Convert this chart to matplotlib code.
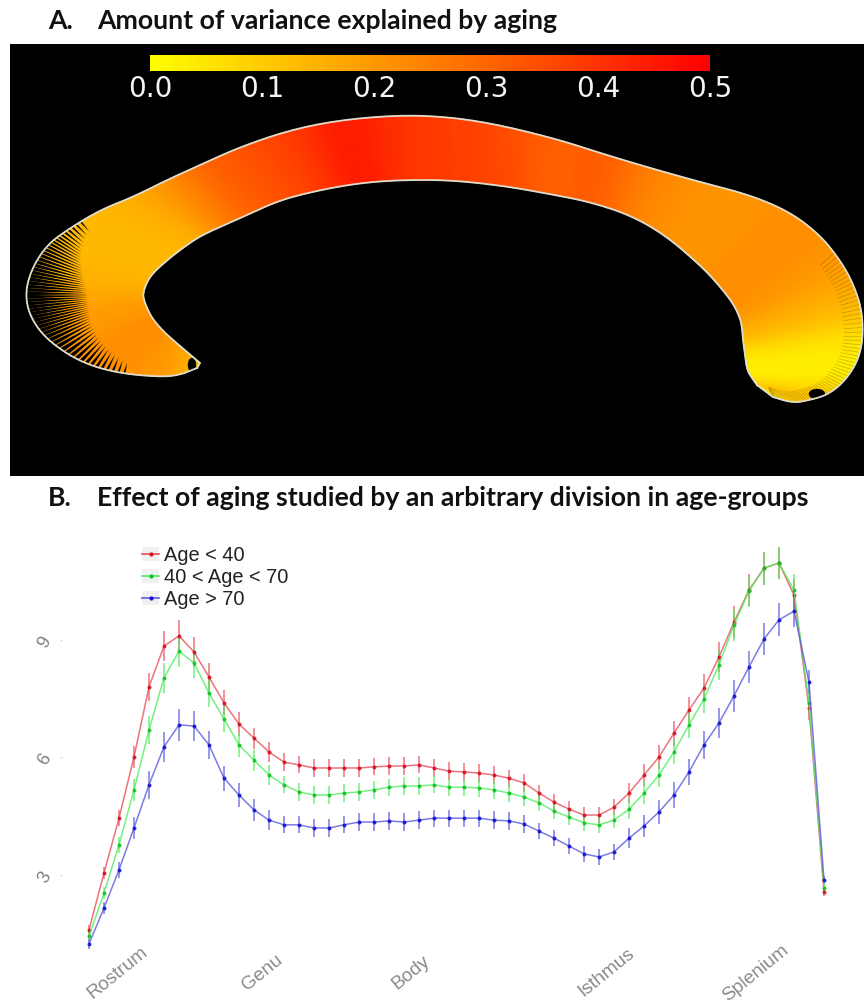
import matplotlib
matplotlib.use('Agg')
import matplotlib.pyplot as plt
from matplotlib.collections import LineCollection
from matplotlib.colors import LinearSegmentedColormap
from matplotlib.legend_handler import HandlerTuple
from matplotlib.lines import Line2D
from matplotlib.patches import Ellipse, Patch
import numpy as np

W, H = 864, 1005

# panel A, callosum stations from rostrum to splenium (image pixels)
outer_x = [197, 180, 160, 117, 80, 47, 30, 25, 32, 47, 67, 100, 133, 167, 200, 240, 290, 340, 400, 450,
           500, 560, 600, 650, 700, 750, 790, 820, 840, 853, 862, 863, 857, 843, 827, 810, 793, 773]
outer_y = [368, 375, 377, 373, 362, 340, 317, 293, 268, 245, 230, 210, 197, 180, 165, 147, 130, 120, 115, 117,
           125, 140, 153, 168, 182, 195, 212, 235, 260, 283, 310, 340, 363, 383, 395, 400, 403, 397]
inner_x = [200, 187, 173, 162, 152, 147, 144, 143, 146, 152, 165, 180, 197, 215, 245, 280, 320, 360, 400, 450,
           505, 555, 590, 630, 665, 700, 717, 733, 740, 742, 743, 745, 747, 752, 757, 757, 757, 757]
inner_y = [363, 352, 340, 330, 318, 308, 300, 294, 284, 274, 262, 250, 238, 229, 216, 200, 190, 183, 180, 180,
           186, 195, 202, 215, 235, 265, 283, 303, 318, 327, 340, 355, 370, 378, 385, 385, 385, 385]
variance = [.14, .17, .20, .22, .22, .20, .19, .17, .15, .14, .14, .14, .16, .22, .30, .34, .38, .46, .40, .38,
            .36, .30, .33, .25, .21, .21, .22, .22, .20, .17, .13, .05, .03, .05, .10, .12, .10, .06]
bar_ticks = [0.0, 0.1, 0.2, 0.3, 0.4, 0.5]

# panel B
regions = ['Rostrum', 'Genu', 'Body', 'Isthmus', 'Splenium']
region_nodes = [1.93, 11.53, 21.47, 34.47, 44.47]
young = [1.60, 3.05, 4.45, 6.01, 7.80, 8.84, 9.10, 8.69, 8.05, 7.39, 6.85, 6.49, 6.14, 5.88, 5.81, 5.73, 5.73,
         5.73, 5.73, 5.76, 5.78, 5.78, 5.81, 5.73, 5.65, 5.63, 5.60, 5.55, 5.47, 5.35, 5.09, 4.86, 4.68, 4.53,
         4.53, 4.73, 5.09, 5.55, 6.01, 6.62, 7.21, 7.77, 8.56, 9.45, 10.27, 10.83, 10.96, 10.14, 7.26, 2.57]
middle = [1.44, 2.54, 3.77, 5.17, 6.70, 8.03, 8.71, 8.41, 7.64, 6.98, 6.32, 5.93, 5.55, 5.30, 5.12, 5.04, 5.04,
          5.09, 5.12, 5.17, 5.24, 5.27, 5.27, 5.30, 5.24, 5.24, 5.22, 5.17, 5.09, 4.99, 4.84, 4.63, 4.48, 4.33,
          4.28, 4.40, 4.68, 5.09, 5.55, 6.14, 6.83, 7.49, 8.36, 9.38, 10.24, 10.83, 10.96, 10.27, 7.39, 2.67]
old = [1.24, 2.16, 3.13, 4.20, 5.30, 6.27, 6.83, 6.80, 6.32, 5.47, 5.04, 4.66, 4.40, 4.28, 4.28, 4.20, 4.20,
       4.28, 4.35, 4.35, 4.38, 4.35, 4.40, 4.45, 4.45, 4.45, 4.45, 4.40, 4.38, 4.30, 4.12, 3.94, 3.74, 3.54,
       3.46, 3.59, 3.94, 4.25, 4.61, 5.04, 5.63, 6.32, 6.88, 7.57, 8.31, 9.02, 9.51, 9.73, 7.92, 2.87]
errs = [.12, .15, .20, .28, .35, .38, .40, .38, .35, .32, .30, .27, .25, .22, .22, .22, .22, .22, .22, .22,
        .22, .22, .22, .22, .22, .22, .22, .22, .22, .22, .20, .20, .20, .20, .20, .20, .25, .27, .30, .32,
        .34, .36, .38, .40, .40, .42, .42, .40, .30, .10]

fig = plt.figure(figsize=(W / 100, H / 100), dpi=100, facecolor='white')


def box(x0, y0, x1, y1):
    return [x0 / W, 1 - y1 / H, (x1 - x0) / W, (y1 - y0) / H]


def cut_corners(a, rounds=3):
    # rounds off the outline between the stations I read
    a = np.asarray(a, dtype=float)
    for _ in range(rounds):
        q = 0.75 * a[:-1] + 0.25 * a[1:]
        r = 0.25 * a[:-1] + 0.75 * a[1:]
        a = np.concatenate([a[:1], np.column_stack([q, r]).ravel(), a[-1:]])
    return a


# titles
title_font = dict(family='Lato', weight='bold', size=19.2, color='#111111', va='center')
fig.text(48 / W, 1 - 21 / H, 'A.', **title_font)
fig.text(97 / W, 1 - 21 / H, 'Amount of variance explained by aging', **title_font)
fig.text(48 / W, 1 - 498 / H, 'B.', **title_font)
fig.text(97 / W, 1 - 498 / H, 'Effect of aging studied by an arbitrary division in age-groups', **title_font)

### PANEL A ###
ax = fig.add_axes(box(10, 44, 864, 476), facecolor='black')
ax.set_xlim(10, 864)
ax.set_ylim(476, 44)
ax.axis('off')
ax.add_patch(plt.Rectangle((10, 44), 854, 432, color='black', zorder=0))

heat = LinearSegmentedColormap.from_list('heat', ['#ffff00', '#ff0000'])
ox, oy = cut_corners(outer_x), cut_corners(outer_y)
ix, iy = cut_corners(inner_x), cut_corners(inner_y)
shade = cut_corners(variance)
ax.pcolormesh(np.array([ox, ix]), np.array([oy, iy]), np.array([shade, shade]), cmap=heat, vmin=0, vmax=0.5,
              shading='gouraud', zorder=1)

# black wedges round the genu
stations = np.linspace(0, len(outer_x) - 1, len(ox))
for t in np.linspace(3.2, 10.6, 54):
    fade = np.sin(np.pi * (t - 3.0) / 7.8)
    half = 0.02 + 0.055 * fade
    mid = np.interp(t, stations, ox), np.interp(t, stations, oy)
    a = np.interp(t - half, stations, ox), np.interp(t - half, stations, oy)
    b = np.interp(t + half, stations, ox), np.interp(t + half, stations, oy)
    reach = 0.10 + 0.42 * fade
    tip = mid[0] + reach * (145 - mid[0]), mid[1] + reach * (295 - mid[1])
    ax.fill([a[0], b[0], tip[0]], [a[1], b[1], tip[1]], color='black', lw=0, zorder=2)

# thin dark lines round the splenium
segs = []
for t in np.linspace(27.5, 37, 62):
    px, py = np.interp(t, stations, ox), np.interp(t, stations, oy)
    segs.append([(px, py), (px + 0.16 * (745 - px), py + 0.16 * (335 - py))])
ax.add_collection(LineCollection(segs, colors='#403000', linewidths=0.5, alpha=0.3, zorder=2))

ax.add_patch(Ellipse((192, 365), 7, 13, color='black', zorder=3))
ax.add_patch(Ellipse((817, 394), 15, 9, color='black', zorder=3))

edge_x = np.concatenate([ox, ix[::-1], ox[:1]])
edge_y = np.concatenate([oy, iy[::-1], oy[:1]])
ax.plot(edge_x, edge_y, color='#dedccc', lw=1.3, zorder=4, solid_joinstyle='round')

# colour bar
cax = fig.add_axes(box(150, 55, 710, 71))
cax.imshow(np.linspace(0, 0.5, 256)[None, :], cmap=heat, aspect='auto', extent=[0, 0.5, 0, 1])
cax.set_yticks([])
cax.set_xticks(bar_ticks)
cax.set_xticklabels(['%.1f' % b for b in bar_ticks], color='#f4f4f4', size=20, family='DejaVu Sans')
cax.tick_params(axis='x', length=0, pad=3)
for s in cax.spines.values():
    s.set_visible(False)

### PANEL B ###
bx = fig.add_axes(box(62, 520, 864, 950))
bx.set_xlim((62 - 89) / 15, (864 - 89) / 15)
bx.set_ylim(3 - 75 / 39.2, 3 + 355 / 39.2)
for s in bx.spines.values():
    s.set_visible(False)

nodes = np.arange(len(young))
series = [(young, '#e8505c', '#d01020', 'Age < 40'),
          (middle, '#50ee60', '#10c020', '40 < Age < 70'),
          (old, '#5a5ae0', '#1010c8', 'Age > 70')]
handles = []
for vals, col, dark, lab in series:
    bx.errorbar(nodes, vals, yerr=errs, color=col, lw=1.1, elinewidth=1.1, alpha=0.8, marker='o', ms=1.9,
                mfc=dark, mec=dark, capsize=0)
    key = Line2D([0], [0], color=col, lw=1.2, marker='o', ms=2, mfc=dark, mec=dark)
    handles.append((Patch(facecolor='#f0f0f0', edgecolor='none'), key))

bx.set_xticks(region_nodes)
bx.set_xticklabels(regions, rotation=39, ha='center', va='center', rotation_mode='anchor', color='#8a8a8a',
                   size=13.8, family='Liberation Sans')
bx.set_yticks([3, 6, 9])
bx.set_yticklabels(['3', '6', '9'], rotation=60, color='#808080', size=13, family='Liberation Sans')
bx.tick_params(axis='x', length=0, pad=16.5)
bx.tick_params(axis='y', length=1.5, color='#d8d8d8', pad=4)

bx.legend(handles, [s[3] for s in series], handler_map={tuple: HandlerTuple(ndivide=1, pad=0)},
          loc='upper left', bbox_to_anchor=(142 / W, 1 - 546 / H), bbox_transform=fig.transFigure, frameon=False,
          prop={'family': 'Liberation Sans', 'size': 14.4}, labelcolor='#222222', handlelength=0.85,
          handleheight=0.75, handletextpad=0.25, labelspacing=0.15, borderaxespad=0, borderpad=0)

fig.savefig('out.png', dpi=100)
